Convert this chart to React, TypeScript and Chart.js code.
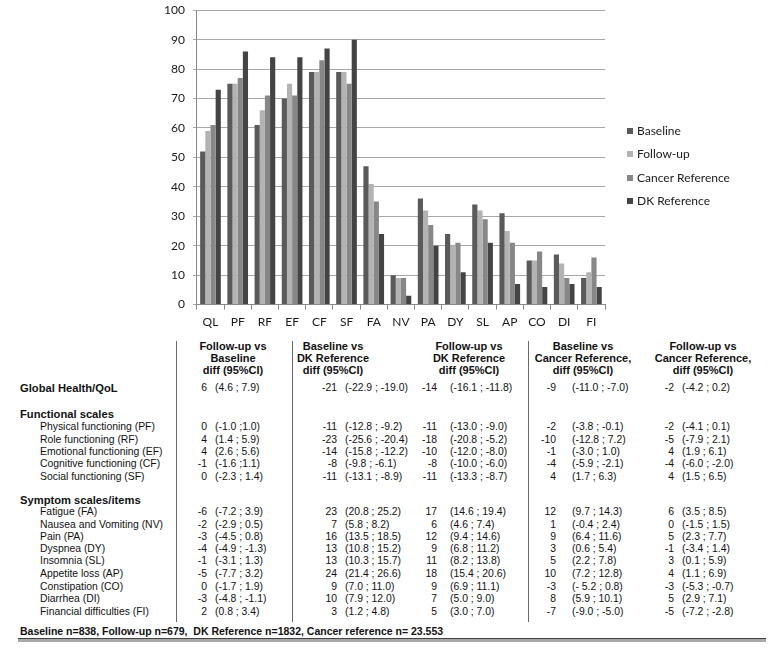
import React, { useEffect, useRef } from 'react';
import { Chart, registerables } from 'chart.js';

Chart.register(...registerables);

// ---------- Chart data ----------
const categories = ['QL', 'PF', 'RF', 'EF', 'CF', 'SF', 'FA', 'NV', 'PA', 'DY', 'SL', 'AP', 'CO', 'DI', 'FI'];
const baseline = [52, 75, 61, 70, 79, 79, 47, 10, 36, 24, 34, 31, 15, 17, 9];
const followUp = [59, 75, 66, 75, 79, 79, 41, 9, 32, 20, 32, 25, 15, 14, 11];
const cancerReference = [61, 77, 71, 71, 83, 75, 35, 9, 27, 21, 29, 21, 18, 9, 16];
const dkReference = [73, 86, 84, 84, 87, 90, 24, 3, 20, 11, 21, 7, 6, 7, 6];
const seriesNames = ['Baseline', 'Follow-up', 'Cancer Reference', 'DK Reference'];

// ---------- Table data ----------
const columnHeaders = [
  ['Follow-up vs', 'Baseline', 'diff (95%CI)'],
  ['Baseline vs', 'DK Reference', 'diff (95%CI)'],
  ['Follow-up vs', 'DK Reference', 'diff (95%CI)'],
  ['Baseline vs', 'Cancer Reference,', 'diff (95%CI)'],
  ['Follow-up vs', 'Cancer Reference,', 'diff (95%CI)'],
];
const globalLabel = 'Global Health/QoL';
const functionalTitle = 'Functional scales';
const functionalLabels = [
  'Physical functioning (PF)',
  'Role functioning (RF)',
  'Emotional functioning (EF)',
  'Cognitive functioning (CF)',
  'Social functioning (SF)',
];
const symptomTitle = 'Symptom scales/items';
const symptomLabels = [
  'Fatigue (FA)',
  'Nausea and Vomiting (NV)',
  'Pain (PA)',
  'Dyspnea (DY)',
  'Insomnia (SL)',
  'Appetite loss (AP)',
  'Constipation (CO)',
  'Diarrhea (DI)',
  'Financial difficulties (FI)',
];
// rows: Global, PF, RF, EF, CF, SF, FA, NV, PA, DY, SL, AP, CO, DI, FI
const fuVsBaselineDiff = ['6', '0', '4', '4', '-1', '0', '-6', '-2', '-3', '-4', '-1', '-5', '0', '-3', '2'];
const fuVsBaselineCI = ['(4.6 ; 7.9)', '(-1.0 ;1.0)', '(1.4 ; 5.9)', '(2.6 ; 5.6)', '(-1.6 ;1.1)', '(-2.3 ; 1.4)', '(-7.2 ; 3.9)', '(-2.9 ; 0.5)', '(-4.5 ; 0.8)', '(-4.9 ; -1.3)', '(-3.1 ; 1.3)', '(-7.7 ; 3.2)', '(-1.7 ; 1.9)', '(-4.8 ; -1.1)', '(0.8 ; 3.4)'];
const baseVsDkDiff = ['-21', '-11', '-23', '-14', '-8', '-11', '23', '7', '16', '13', '13', '24', '9', '10', '3'];
const baseVsDkCI = ['(-22.9 ; -19.0)', '(-12.8 ; -9.2)', '(-25.6 ; -20.4)', '(-15.8 ; -12.2)', '(-9.8 ; -6.1)', '(-13.1 ; -8.9)', '(20.8 ; 25.2)', '(5.8 ; 8.2)', '(13.5 ; 18.5)', '(10.8 ; 15.2)', '(10.3 ; 15.7)', '(21.4 ; 26.6)', '(7.0 ; 11.0)', '(7.9 ; 12.0)', '(1.2 ; 4.8)'];
const fuVsDkDiff = ['-14', '-11', '-18', '-10', '-8', '-11', '17', '6', '12', '9', '11', '18', '9', '7', '5'];
const fuVsDkCI = ['(-16.1 ; -11.8)', '(-13.0 ; -9.0)', '(-20.8 ; -5.2)', '(-12.0 ; -8.0)', '(-10.0 ; -6.0)', '(-13.3 ; -8.7)', '(14.6 ; 19.4)', '(4.6 ; 7.4)', '(9.4 ; 14.6)', '(6.8 ; 11.2)', '(8.2 ; 13.8)', '(15.4 ; 20.6)', '(6.9 ; 11.1)', '(5.0 ; 9.0)', '(3.0 ; 7.0)'];
const baseVsCancerDiff = ['-9', '-2', '-10', '-1', '-4', '4', '12', '1', '9', '3', '5', '10', '-3', '8', '-7'];
const baseVsCancerCI = ['(-11.0 ; -7.0)', '(-3.8 ; -0.1)', '(-12.8 ; 7.2)', '(-3.0 ; 1.0)', '(-5.9 ; -2.1)', '(1.7 ; 6.3)', '(9.7 ; 14.3)', '(-0.4 ; 2.4)', '(6.4 ; 11.6)', '(0.6 ; 5.4)', '(2.2 ; 7.8)', '(7.2 ; 12.8)', '(- 5.2 ; 0.8)', '(5.9 ; 10.1)', '(-9.0 ; -5.0)'];
const fuVsCancerDiff = ['-2', '-2', '-5', '4', '-4', '4', '6', '0', '5', '-1', '3', '4', '-3', '5', '-5'];
const fuVsCancerCI = ['(-4.2 ; 0.2)', '(-4.1 ; 0.1)', '(-7.9 ; 2.1)', '(1.9 ; 6.1)', '(-6.0 ; -2.0)', '(1.5 ; 6.5)', '(3.5 ; 8.5)', '(-1.5 ; 1.5)', '(2.3 ; 7.7)', '(-3.4 ; 1.4)', '(0.1 ; 5.9)', '(1.1 ; 6.9)', '(-5.3 ; -0.7)', '(2.9 ; 7.1)', '(-7.2 ; -2.8)'];
const footnote = 'Baseline n=838, Follow-up n=679,  DK Reference n=1832, Cancer reference n= 23.553';

// ---------- Layout (page pixels) ----------
const CANVAS_W = 779;
const CANVAS_H = 339;
const CANVAS_TOP = -5;
const headerY = [345.5, 357.5, 369.5];
const headerX = [233, 333, 469, 583, 703];
const numRight = [207, 337, 437, 556, 674];
const ciLeft = [215, 345, 450, 572, 682];
const vLines = [176, 292, 528];
const globalY = 388;
const functionalTitleY = 414;
const functionalY = [427, 439.5, 452, 464, 476.5];
const symptomTitleY = 500;
const symptomY = [512, 524.5, 537, 549, 561, 574, 586.5, 599, 611.5];
const footY = 630.5;

const tableFont = '"Liberation Sans", Arial, sans-serif';
const axisFont = 'Lato, "Open Sans", sans-serif';

const sideLegend = {
  id: 'sideLegend',
  afterDraw(chart: any) {
    const ctx = chart.ctx;
    const x0 = chart.chartArea.right + 22;
    ctx.save();
    chart.data.datasets.forEach((ds: any, i: number) => {
      const cy = 131 - CANVAS_TOP + i * 23.4;
      ctx.fillStyle = ds.backgroundColor;
      ctx.fillRect(x0, Math.round(cy - 3), 6, 6);
      ctx.fillStyle = '#1a1a1a';
      ctx.font = `12px ${axisFont}`;
      ctx.textBaseline = 'middle';
      ctx.textAlign = 'left';
      ctx.fillText(ds.label, x0 + 10, cy);
    });
    ctx.restore();
  },
};

const BarChart: React.FC = () => {
  const ref = useRef<HTMLCanvasElement | null>(null);
  useEffect(() => {
    if (!ref.current) return;
    const font = { family: axisFont, size: 12 };
    const chart = new Chart(ref.current, {
      type: 'bar',
      data: {
        labels: categories,
        datasets: [
          { label: seriesNames[0], data: baseline, backgroundColor: '#5a5a5a' },
          { label: seriesNames[1], data: followUp, backgroundColor: '#b3b3b3' },
          { label: seriesNames[2], data: cancerReference, backgroundColor: '#878787' },
          { label: seriesNames[3], data: dkReference, backgroundColor: '#444444' },
        ],
      },
      options: {
        animation: false,
        responsive: false,
        devicePixelRatio: 1,
        layout: { padding: { left: 156, top: 0, right: 174, bottom: 0 } },
        datasets: { bar: { categoryPercentage: 0.76, barPercentage: 1 } } as any,
        scales: {
          x: {
            grid: { offset: true, drawOnChartArea: false, tickLength: 5, color: '#8a8a8a' },
            border: { color: '#8a8a8a' },
            ticks: { font, color: '#1a1a1a', padding: 5, maxRotation: 0, autoSkip: false },
          },
          y: {
            min: 0,
            max: 100,
            ticks: { stepSize: 10, font, color: '#1a1a1a', padding: 8 },
            grid: { color: '#a8a8a8', tickLength: 4 },
            border: { color: '#8a8a8a' },
          },
        },
        plugins: {
          legend: { display: false },
          tooltip: { enabled: false },
        },
      },
      plugins: [sideLegend],
    });
    return () => chart.destroy();
  }, []);
  return (
    <canvas
      ref={ref}
      width={CANVAS_W}
      height={CANVAS_H}
      style={{ position: 'absolute', left: 0, top: CANVAS_TOP, width: CANVAS_W, height: CANVAS_H, display: 'block' }}
    />
  );
};

const T: React.FC<{ x: number; y: number; bold?: boolean; size?: number; align?: 'left' | 'right' | 'center'; children: React.ReactNode }> = ({ x, y, bold, size = 10.4, align = 'left', children }) => {
  const h = 14;
  const style: React.CSSProperties = {
    position: 'absolute',
    top: y - h / 2,
    height: h,
    lineHeight: h + 'px',
    fontFamily: tableFont,
    fontSize: size,
    fontWeight: bold ? 700 : 400,
    color: '#111',
    whiteSpace: 'pre',
  };
  if (align === 'left') style.left = x;
  else if (align === 'right') style.right = 779 - x;
  else { style.left = x - 100; style.width = 200; style.textAlign = 'center'; }
  return <div style={style}>{children}</div>;
};

export default function App() {
  const diffs = [fuVsBaselineDiff, baseVsDkDiff, fuVsDkDiff, baseVsCancerDiff, fuVsCancerDiff];
  const cis = [fuVsBaselineCI, baseVsDkCI, fuVsDkCI, baseVsCancerCI, fuVsCancerCI];
  const rowYs = [globalY, ...functionalY, ...symptomY];
  return (
    <div style={{ position: 'absolute', left: 0, top: 0, width: 779, height: 654, background: '#fff', overflow: 'hidden' }}>
      <BarChart />
      {columnHeaders.map((lines, c) =>
        lines.map((t, i) => (
          <T key={`h${c}-${i}`} x={headerX[c]} y={headerY[i]} bold size={11} align="center">{t}</T>
        ))
      )}
      {vLines.map((x, i) => (
        <div key={`v${i}`} style={{ position: 'absolute', left: x, top: 341, width: 1, height: 281, background: '#6a6a6a' }} />
      ))}
      <T x={20} y={globalY} bold size={11.2}>{globalLabel}</T>
      <T x={20} y={functionalTitleY} bold size={11.2}>{functionalTitle}</T>
      {functionalLabels.map((l, i) => <T key={`f${i}`} x={40} y={functionalY[i]}>{l}</T>)}
      <T x={20} y={symptomTitleY} bold size={11.2}>{symptomTitle}</T>
      {symptomLabels.map((l, i) => <T key={`s${i}`} x={40} y={symptomY[i]}>{l}</T>)}
      {diffs.map((col, c) =>
        col.map((v, r) => (
          <React.Fragment key={`d${c}-${r}`}>
            <T x={numRight[c]} y={rowYs[r]} align="right">{v}</T>
            <T x={ciLeft[c]} y={rowYs[r]}>{cis[c][r]}</T>
          </React.Fragment>
        ))
      )}
      <T x={20} y={footY} bold size={10.5}>{footnote}</T>
      <div style={{ position: 'absolute', left: 18, top: 638, width: 748, height: 1, background: '#444' }} />
      <div style={{ position: 'absolute', left: 18, top: 639, width: 748, height: 3, background: '#a8a8a8' }} />
    </div>
  );
}
